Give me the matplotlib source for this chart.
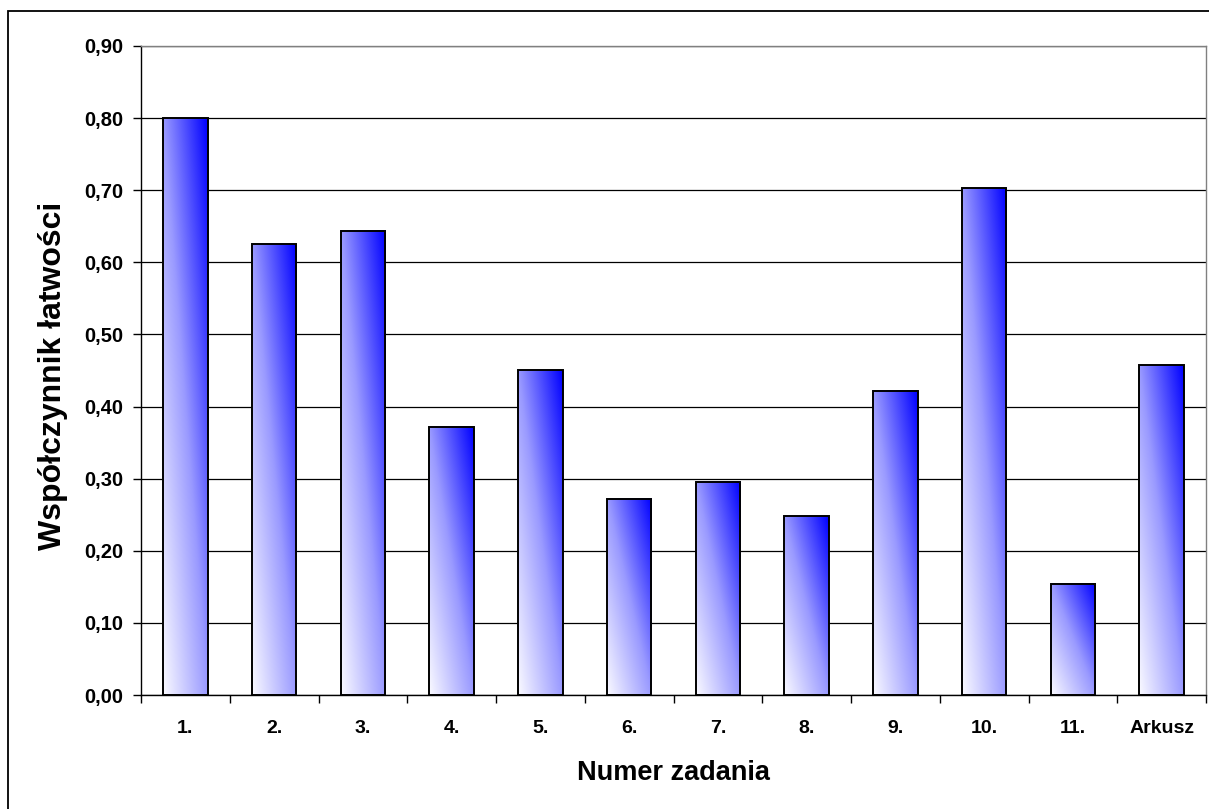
import numpy as np
import matplotlib
matplotlib.use("Agg")
import matplotlib.pyplot as plt
from matplotlib.patches import Rectangle
from matplotlib.colors import LinearSegmentedColormap

categories = ['1.', '2.', '3.', '4.', '5.', '6.', '7.', '8.', '9.', '10.', '11.', 'Arkusz']
values = [0.80, 0.625, 0.644, 0.372, 0.450, 0.272, 0.296, 0.248, 0.422, 0.703, 0.154, 0.457]
yticks = [0.0, 0.1, 0.2, 0.3, 0.4, 0.5, 0.6, 0.7, 0.8, 0.9]
ytick_labels = ['0,00', '0,10', '0,20', '0,30', '0,40', '0,50', '0,60', '0,70', '0,80', '0,90']
xlabel = 'Numer zadania'
ylabel = 'Współczynnik łatwości'

plt.rcParams['font.family'] = ['Liberation Sans', 'DejaVu Sans']
plt.rcParams['font.weight'] = 'bold'

W, H = 1209, 809
fig = plt.figure(figsize=(W / 100, H / 100), dpi=100)
fig.patch.set_facecolor('white')

left, right, top, bottom = 141, 1206, 46, 695
ax = fig.add_axes([left / W, (H - bottom) / H, (right - left) / W, (bottom - top) / H])

x = np.arange(len(categories))
bars = ax.bar(x, values, width=0.5, facecolor='none', edgecolor='black',
              linewidth=1.4, zorder=3)

# diagonal gradient: white bottom-left -> blue top-right
cmap = LinearSegmentedColormap.from_list('wb', ['#fafaff', '#9a9aff', '#0000ff'])
n = 200
u = np.linspace(0, 1, n)
U, V = np.meshgrid(u, u)
grad = (U + V) / 2.0
for b in bars:
    x0, y0, w, h = b.get_x(), b.get_y(), b.get_width(), b.get_height()
    ax.imshow(grad, extent=[x0, x0 + w, y0, y0 + h], origin='lower', cmap=cmap,
              vmin=0, vmax=1, aspect='auto', interpolation='bilinear', zorder=2)

ax.set_xlim(-0.5, len(categories) - 0.5)
ax.set_ylim(0, 0.9)
ax.set_aspect('auto')

ax.set_yticks(yticks)
ax.set_yticklabels(ytick_labels, fontsize=14.5, fontweight='bold')
ax.tick_params(axis='y', direction='out', length=6, width=1, pad=7, colors='black')

ax.set_xticks(np.arange(-0.5, len(categories), 1.0))
ax.set_xticklabels([])
ax.set_xticks(x, minor=True)
ax.set_xticklabels(categories, minor=True, fontsize=14, fontweight='bold')
ax.tick_params(axis='x', which='major', direction='out', length=6, width=1)
ax.tick_params(axis='x', which='minor', length=0, pad=18)

ax.yaxis.grid(True, color='black', linewidth=0.9)
ax.set_axisbelow(True)

ax.spines['left'].set_color('black')
ax.spines['bottom'].set_color('black')
ax.spines['top'].set_color('#808080')
ax.spines['right'].set_color('#808080')
for s in ax.spines.values():
    s.set_linewidth(1.0)

fig.text((left + right) / 2 / W, 1 - 773 / H, xlabel, ha='center', va='center',
         fontsize=19.5, fontweight='bold')
fig.text(53 / W, 1 - 376 / H, ylabel, ha='center', va='center', rotation=90,
         fontsize=23, fontweight='bold')

fig.patches.append(Rectangle((8 / W, -0.02), 1.1, (H - 11) / H + 0.02,
                             transform=fig.transFigure, fill=False,
                             edgecolor='black', linewidth=1.3))

fig.savefig('out.png', dpi=100)
